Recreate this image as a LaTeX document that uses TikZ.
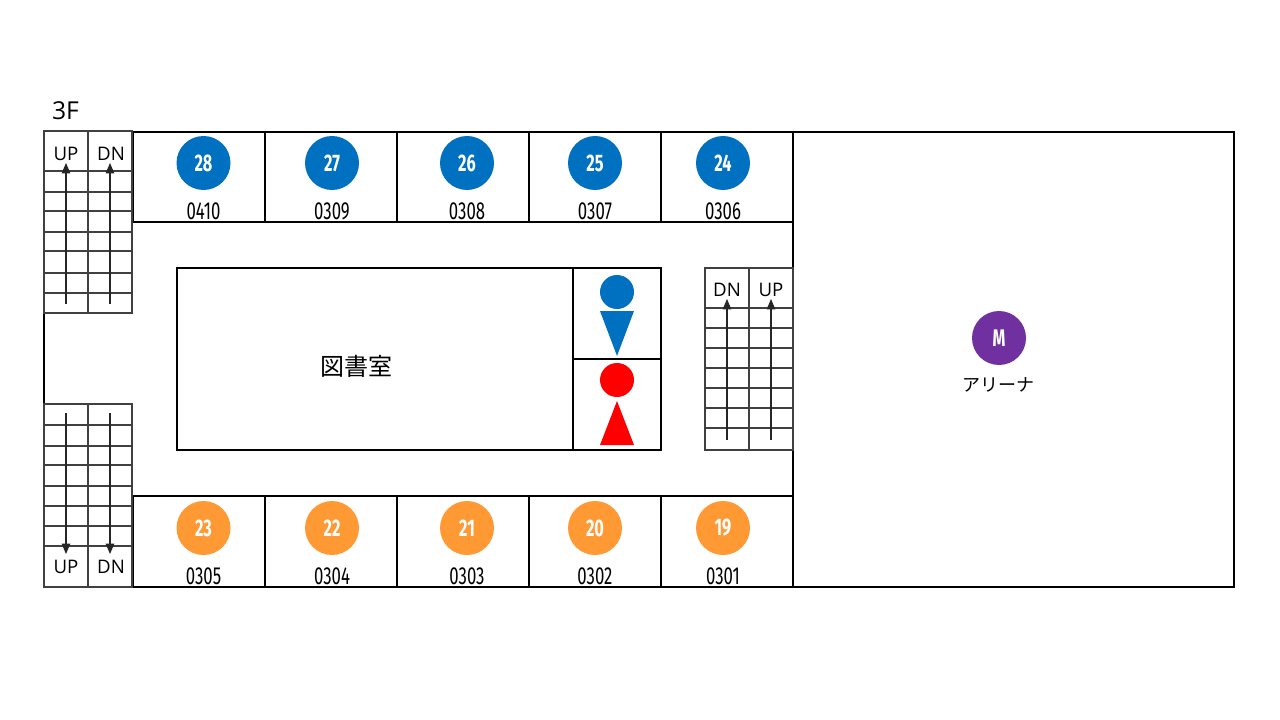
\documentclass[tikz,border=0pt]{standalone}
\usepackage{fontspec}
\setmainfont{Open Sans}
\newfontfamily\jpfont{Noto Sans CJK JP}
\newfontfamily\numfont[FakeStretch=0.68]{Fira Sans}
\usetikzlibrary{arrows}
\definecolor{menblue}{HTML}{0070C0}
\definecolor{roomorange}{HTML}{FF9933}
\definecolor{arenapurple}{HTML}{7030A0}
\tikzset{
  wall/.style={black,line width=1.5pt},
  thinwall/.style={black,line width=0.8pt},
  stairline/.style={black!75,line width=0.8pt},
  stairarrow/.style={black!85,line width=0.8pt,-triangle 45},
  badge/.style={circle,minimum size=40.5pt,inner sep=0pt,text=white,font=\numfont\fontsize{18}{18}\selectfont\bfseries},
  roomno/.style={inner sep=0pt,font=\numfont\fontsize{18.5}{18}\selectfont},
  stairlabel/.style={inner sep=0pt,font=\fontsize{14}{14}\selectfont},
  jplabel/.style={inner sep=0pt,font=\jpfont},
}
\begin{document}
\begin{tikzpicture}[x=0.75pt,y=-0.75pt]
\useasboundingbox (0,0) rectangle (1280,720);
\fill[white] (0,0) rectangle (1280,720);
\node[inner sep=0pt,font=\fontsize{18.5}{18}\selectfont] (floor) at (65.5,110.5) {3F};

\draw[wall] (44,131) -- (44,587) -- (1234,587) -- (1234,132) -- (133,132);
\draw[wall] (133,131) -- (44,131);
\draw[wall] (133,132) -- (133,222) -- (793,222);
\draw[wall] (133,587) -- (133,496) -- (793,496);
\draw[thinwall] (793,132) -- (793,587);
\foreach \x in {265,397} {
  \draw[wall] (\x,132) -- (\x,222);
  \draw[wall] (\x,496) -- (\x,587);
}
\foreach \x in {529,661} {
  \draw[thinwall] (\x,132) -- (\x,222);
  \draw[thinwall] (\x,496) -- (\x,587);
}

\draw[stairline] (44,131) rectangle (132,313);
\draw[stairline] (88,131) -- (88,313);
\foreach \y in {171,192,211,232,251,273,293}
  \draw[stairline] (44,\y) -- (132,\y);
\draw[stairline] (44,404) rectangle (132,587);
\draw[stairline] (88,404) -- (88,587);
\foreach \y in {425,446,465,486,506,526,546}
  \draw[stairline] (44,\y) -- (132,\y);
\draw[stairline] (705,268) rectangle (793,450);
\draw[stairline] (749,268) -- (749,450);
\foreach \y in {308,328,348,368,388,408,428}
  \draw[stairline] (705,\y) -- (793,\y);

\coordinate (a1s) at (66,304);
\coordinate (a1e) at (66,163);
\coordinate (a2s) at (110,304);
\coordinate (a2e) at (110,163);
\coordinate (a3s) at (66,413);
\coordinate (a3e) at (66,554);
\coordinate (a4s) at (110,413);
\coordinate (a4e) at (110,554);
\coordinate (a5s) at (727,440);
\coordinate (a5e) at (727,299);
\coordinate (a6s) at (771,440);
\coordinate (a6e) at (771,299);
\foreach \n in {1,...,6}
  \draw[stairarrow] (a\n s) -- (a\n e);

\node[stairlabel] (up1) at (66,154) {UP};
\node[stairlabel] (dn1) at (111,154) {DN};
\node[stairlabel] (up2) at (66,567) {UP};
\node[stairlabel] (dn2) at (111,567) {DN};
\node[stairlabel] (dn3) at (727,290) {DN};
\node[stairlabel] (up3) at (771,290) {UP};

\draw[thinwall] (177,268) rectangle (661,450);
\draw[thinwall] (573,268) -- (573,450);
\draw[thinwall] (573,359) -- (661,359);
\node[jplabel,font=\jpfont\fontsize{18}{18}\selectfont] (library) at (356,366) {図書室};

\fill[menblue] (617,292) circle (17);
\fill[menblue] (600,311) -- (634,311) -- (617,356) -- cycle;
\fill[red] (617,380) circle (17);
\fill[red] (617,401) -- (634,445) -- (600,445) -- cycle;

\foreach \x/\num/\room in {203.5/28/0410,332/27/0309,467/26/0308,595/25/0307,723/24/0306} {
  \node[badge,fill=menblue] (b\num) at (\x,163) {\num};
  \node[roomno] (r\room) at (\x,211.5) {\room};
}
\foreach \x/\num/\room in {203.5/23/0305,332/22/0304,467/21/0303,595/20/0302,723/19/0301} {
  \node[badge,fill=roomorange] (b\num) at (\x,528) {\num};
  \node[roomno] (r\room) at (\x,576.5) {\room};
}

\node[badge,fill=arenapurple] (arena) at (999,338) {M};
\node[jplabel,font=\jpfont\fontsize{13.5}{14}\selectfont] (arenaname) at (998.5,385) {アリーナ};
\end{tikzpicture}
\end{document}
